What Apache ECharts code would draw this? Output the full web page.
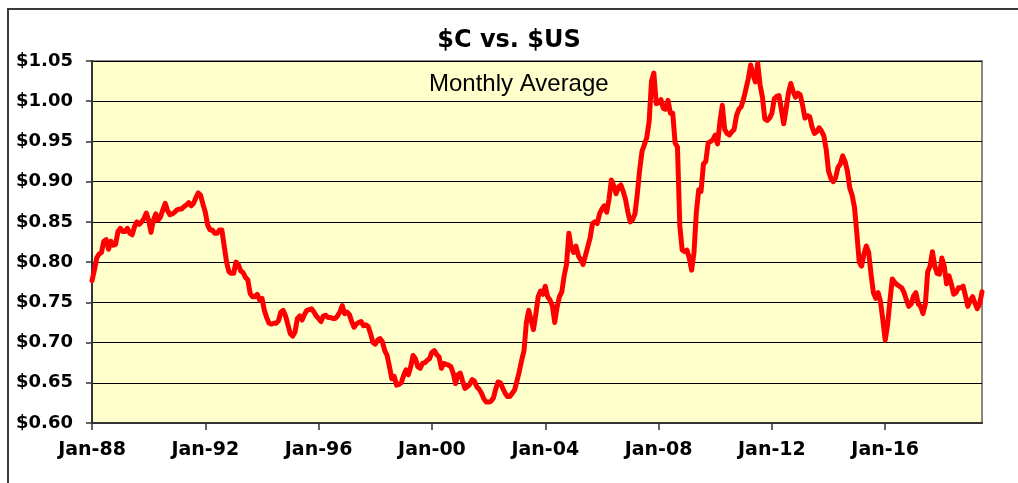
<!DOCTYPE html>
<html>
<head>
<meta charset="utf-8">
<script src="https://cdn.jsdelivr.net/npm/echarts@6/dist/echarts.min.js"></script>
<style>
  html, body { margin: 0; padding: 0; background: #fff; }
  #chart { width: 1018px; height: 483px; }
</style>
</head>
<body>
<div id="chart"></div>
<script>
// month names + two digit years, glued into "Jan-88" style categories
const monthNames = ["Jan", "Feb", "Mar", "Apr", "May", "Jun", "Jul", "Aug", "Sep", "Oct", "Nov", "Dec"];
const yearLabels = ["88", "89", "90", "91", "92", "93", "94", "95", "96", "97", "98", "99",
  "00", "01", "02", "03", "04", "05", "06", "07", "08", "09", "10", "11", "12", "13",
  "14", "15", "16", "17", "18", "19"];

// $US per $C, monthly average
const rates1988to1991 = [
  0.777, 0.790, 0.805, 0.810, 0.812, 0.826, 0.828, 0.816, 0.826, 0.821, 0.822, 0.838,
  0.842, 0.838, 0.838, 0.842, 0.836, 0.834, 0.844, 0.850, 0.847, 0.850, 0.854, 0.861,
  0.852, 0.837, 0.852, 0.860, 0.852, 0.856, 0.865, 0.873, 0.864, 0.859, 0.860, 0.862,
  0.865, 0.866, 0.866, 0.869, 0.871, 0.874, 0.870, 0.873, 0.880, 0.886, 0.883, 0.872
];
const rates1992to1995 = [
  0.862, 0.846, 0.840, 0.840, 0.836, 0.836, 0.840, 0.840, 0.820, 0.800, 0.788, 0.786,
  0.786, 0.800, 0.797, 0.789, 0.787, 0.781, 0.778, 0.761, 0.757, 0.757, 0.760, 0.753,
  0.755, 0.740, 0.731, 0.724, 0.723, 0.724, 0.724, 0.727, 0.738, 0.740, 0.733, 0.722,
  0.711, 0.708, 0.713, 0.730, 0.733, 0.728, 0.735, 0.740, 0.741, 0.742, 0.738, 0.733
];
const rates1996to1999 = [
  0.730, 0.726, 0.733, 0.734, 0.731, 0.731, 0.730, 0.730, 0.733, 0.738, 0.746, 0.736,
  0.738, 0.735, 0.726, 0.719, 0.723, 0.725, 0.726, 0.721, 0.722, 0.720, 0.711, 0.700,
  0.698, 0.703, 0.705, 0.701, 0.690, 0.684, 0.670, 0.655, 0.658, 0.647, 0.648, 0.650,
  0.659, 0.666, 0.660, 0.670, 0.684, 0.680, 0.670, 0.668, 0.674, 0.675, 0.678, 0.680
];
const rates2000to2003 = [
  0.688, 0.690, 0.685, 0.682, 0.668, 0.674, 0.673, 0.672, 0.670, 0.662, 0.649, 0.660,
  0.662, 0.652, 0.643, 0.645, 0.648, 0.654, 0.652, 0.645, 0.642, 0.637, 0.630, 0.626,
  0.626, 0.627, 0.631, 0.642, 0.651, 0.650, 0.643, 0.637, 0.633, 0.633, 0.637, 0.641,
  0.652, 0.664, 0.678, 0.690, 0.725, 0.740, 0.728, 0.716, 0.735, 0.757, 0.764, 0.760
];
const rates2004to2007 = [
  0.770, 0.757, 0.753, 0.746, 0.725, 0.744, 0.757, 0.763, 0.783, 0.797, 0.836, 0.818,
  0.812, 0.820, 0.808, 0.803, 0.797, 0.808, 0.819, 0.830, 0.848, 0.850, 0.848, 0.860,
  0.866, 0.870, 0.862, 0.878, 0.902, 0.895, 0.885, 0.893, 0.896, 0.888, 0.878, 0.862,
  0.850, 0.853, 0.860, 0.885, 0.915, 0.938, 0.946, 0.955, 0.975, 1.025, 1.035, 0.997
];
const rates2008to2011 = [
  0.998, 1.002, 0.991, 0.990, 1.001, 0.985, 0.985, 0.948, 0.943, 0.845, 0.815, 0.813,
  0.815, 0.805, 0.790, 0.812, 0.862, 0.890, 0.888, 0.922, 0.925, 0.948, 0.950, 0.952,
  0.958, 0.947, 0.975, 0.995, 0.965, 0.960, 0.958, 0.962, 0.965, 0.982, 0.990, 0.993,
  1.003, 1.015, 1.028, 1.045, 1.033, 1.024, 1.047, 1.020, 1.005, 0.978, 0.976, 0.979
];
const rates2012to2015 = [
  0.985, 1.003, 1.006, 1.007, 0.990, 0.972, 0.990, 1.010, 1.022, 1.012, 1.005, 1.010,
  1.008, 0.995, 0.979, 0.982, 0.981, 0.968, 0.960, 0.962, 0.967, 0.963, 0.957, 0.940,
  0.913, 0.904, 0.900, 0.905, 0.918, 0.922, 0.932, 0.925, 0.913, 0.892, 0.883, 0.868,
  0.835, 0.800, 0.795, 0.810, 0.820, 0.812, 0.785, 0.762, 0.755, 0.762, 0.751, 0.728
];
const rates2016to2019 = [
  0.703, 0.722, 0.752, 0.779, 0.775, 0.772, 0.770, 0.768, 0.762, 0.753, 0.745, 0.748,
  0.758, 0.762, 0.748, 0.745, 0.736, 0.748, 0.788, 0.795, 0.813, 0.795, 0.786, 0.785,
  0.805, 0.795, 0.773, 0.783, 0.773, 0.760, 0.762, 0.768, 0.768, 0.770, 0.758, 0.745,
  0.752, 0.757, 0.749, 0.742, 0.748, 0.763
];

const yTicks = { min: 0.6, max: 1.05, step: 0.05 };

const rates = [].concat(rates1988to1991, rates1992to1995, rates1996to1999, rates2000to2003,
  rates2004to2007, rates2008to2011, rates2012to2015, rates2016to2019);
const months = yearLabels
  .flatMap(y => monthNames.map(m => m + "-" + y))
  .slice(0, rates.length);

const chart = echarts.init(document.getElementById("chart"));

const option = {
  animation: false,
  backgroundColor: "#ffffff",
  title: {
    text: "$C vs. $US",
    left: "center",
    top: 24,
    textStyle: { fontFamily: "DejaVu Sans", fontWeight: "bold", fontSize: 24, color: "#000" }
  },
  grid: {
    left: 92, top: 61, right: 36, bottom: 60,
    show: true,
    backgroundColor: "#FFFFCC",
    borderColor: "#888888",
    borderWidth: 2
  },
  xAxis: {
    type: "category",
    data: months,
    boundaryGap: false,
    axisLine: { lineStyle: { color: "#333", width: 2 } },
    axisTick: { interval: 47, length: 7, lineStyle: { color: "#333", width: 1.5 } },
    axisLabel: {
      interval: 47,
      margin: 18,
      color: "#000",
      fontFamily: "DejaVu Sans",
      fontWeight: "bold",
      fontSize: 19
    },
    splitLine: { show: false }
  },
  yAxis: {
    type: "value",
    min: yTicks.min,
    max: yTicks.max,
    interval: yTicks.step,
    axisLine: { show: true, lineStyle: { color: "#333", width: 2 } },
    axisTick: { show: true, length: 6, lineStyle: { color: "#333", width: 1.5 } },
    axisLabel: {
      margin: 19,
      color: "#000",
      fontFamily: "DejaVu Sans",
      fontWeight: "bold",
      fontSize: 18,
      formatter: v => "$" + v.toFixed(2)
    },
    splitLine: { lineStyle: { color: "#000", width: 1 } }
  },
  graphic: [
    {
      // outer chart frame (only top and left edges fall inside the picture)
      type: "rect",
      shape: { x: 8, y: 9, width: 1030, height: 500 },
      style: { fill: null, stroke: "#3a3a3a", lineWidth: 2 },
      silent: true
    },
    {
      type: "text",
      left: 429,
      top: 72,
      style: {
        text: "Monthly Average",
        fontFamily: "Liberation Sans",
        fontSize: 24,
        fill: "#000"
      },
      z: 10
    }
  ],
  series: [
    {
      type: "line",
      data: rates,
      showSymbol: false,
      smooth: false,
      lineStyle: { color: "#FF0000", width: 5, join: "round", cap: "round" },
      itemStyle: { color: "#FF0000" }
    }
  ]
};

chart.setOption(option);
</script>
</body>
</html>
